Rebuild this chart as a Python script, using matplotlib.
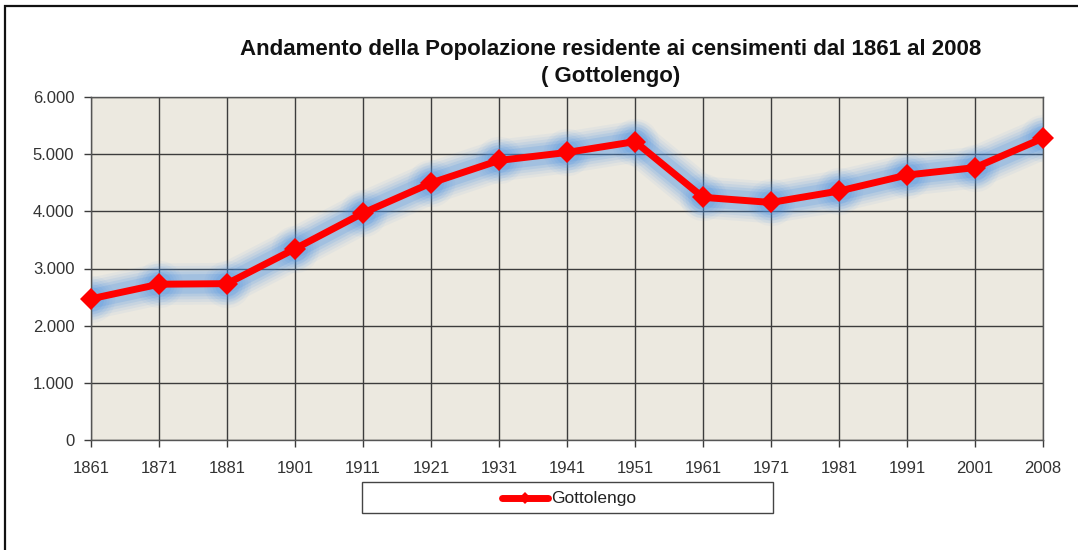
import matplotlib.pyplot as plt
from matplotlib.lines import Line2D
from matplotlib.patches import Rectangle

PLOT_BG = "#ece9e0"
GRID = "#3c3c3c"
RED = "#ff0000"
GLOW = "#4a90e2"
TICK_INK = "#333333"

years = ["1861", "1871", "1881", "1901", "1911", "1921", "1931", "1941",
         "1951", "1961", "1971", "1981", "1991", "2001", "2008"]
residents = [2470, 2725, 2735, 3345, 3970, 4495, 4890, 5030,
             5220, 4245, 4155, 4355, 4635, 4765, 5280]
y_ticks = [0, 1000, 2000, 3000, 4000, 5000, 6000]
y_tick_labels = ["0", "1.000", "2.000", "3.000", "4.000", "5.000", "6.000"]

W, H = 1078, 550
fig = plt.figure(figsize=(W / 100, H / 100), dpi=100)
fig.patch.set_facecolor("white")

# outer chart frame (only top and left edges fall inside the canvas)
fig.patches.append(Rectangle((5 / W, -0.05), 1.2, 1 - 6 / H + 0.05,
                             transform=fig.transFigure, fill=False,
                             edgecolor="#111111", linewidth=1.6))

ax = fig.add_axes([91 / W, 1 - 440 / H, (1043 - 91) / W, (440 - 97) / H])
ax.set_facecolor(PLOT_BG)

x = list(range(len(years)))

# soft blue halo under the series
glow_steps = [(30, 0.06), (26, 0.08), (22, 0.10), (18, 0.13), (14, 0.18)]
for lw, a in glow_steps:
    ax.plot(x, residents, color=GLOW, linewidth=lw, alpha=a,
            solid_capstyle="round", solid_joinstyle="round", zorder=2)
    ax.plot(x, residents, linestyle="none", marker="o",
            markersize=lw + 4, color=GLOW, alpha=a * 0.8,
            markeredgewidth=0, zorder=2)

ax.plot(x, residents, color=RED, linewidth=5, marker="D", markersize=11,
        markeredgewidth=0, solid_joinstyle="round", zorder=3,
        clip_on=False)

ax.set_xlim(0, len(years) - 1)
ax.set_ylim(0, 6000)
ax.set_xticks(x)
ax.set_xticklabels(years)
ax.set_yticks(y_ticks)
ax.set_yticklabels(y_tick_labels)

ax.grid(True, color=GRID, linewidth=1.0)
ax.set_axisbelow(True)
for spine in ax.spines.values():
    spine.set_color("#555555")
    spine.set_linewidth(1.0)

ax.tick_params(axis="both", direction="out", length=5, width=1,
               color=GRID, labelcolor=TICK_INK, labelsize=12,
               labelfontfamily="Liberation Sans")
ax.tick_params(axis="y", pad=7)
ax.tick_params(axis="x", pad=10)

title_font = dict(ha="center", va="baseline", fontsize=16, fontweight="bold",
                  family="Liberation Sans", color="#111111")
fig.text(611 / W, 1 - 55 / H,
         "Andamento della Popolazione residente ai censimenti dal 1861 al 2008",
         **title_font)
fig.text(611 / W, 1 - 82 / H, "( Gottolengo)", **title_font)

# legend box under the axis
lx0, lx1, ly0, ly1 = 362, 773, 482, 513
fig.patches.append(Rectangle((lx0 / W, 1 - ly1 / H), (lx1 - lx0) / W,
                             (ly1 - ly0) / H, transform=fig.transFigure,
                             facecolor="white", edgecolor="#444444",
                             linewidth=1.0))
ly = 1 - 498 / H
fig.lines.append(Line2D([502 / W, 548 / W], [ly, ly], transform=fig.transFigure,
                        color=RED, linewidth=5, solid_capstyle="round"))
fig.lines.append(Line2D([525 / W], [ly], transform=fig.transFigure,
                        color=RED, marker="D", markersize=6,
                        markeredgewidth=0))
fig.text(551 / W, ly, "Gottolengo", ha="left", va="center", fontsize=12.5,
         family="Liberation Sans", color="#222222")

fig.savefig("out.png", dpi=100, facecolor=fig.get_facecolor())
